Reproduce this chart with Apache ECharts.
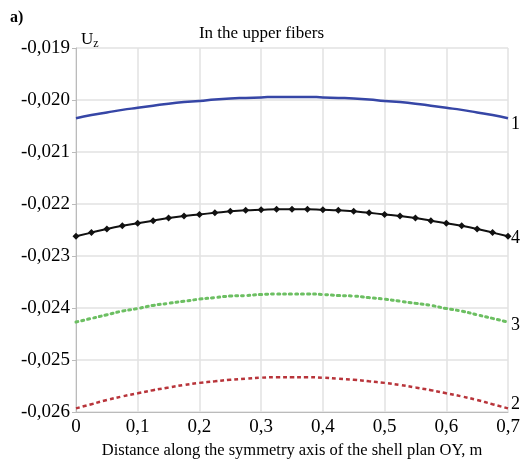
<!DOCTYPE html>
<html>
<head>
<meta charset="utf-8">
<script src="https://cdn.jsdelivr.net/npm/echarts@6/dist/echarts.min.js"></script>
<style>html,body{margin:0;padding:0;background:#fff}#c{width:523px;height:460px}</style>
</head>
<body>
<div id="c"></div>
<script>
const xValues = [0,0.025,0.05,0.075,0.1,0.125,0.15,0.175,0.2,0.225,0.25,0.275,0.3,0.325,0.35,0.375,0.4,0.425,0.45,0.475,0.5,0.525,0.55,0.575,0.6,0.625,0.65,0.675,0.7];
const curve1 = [-0.02035,-0.02029,-0.02024,-0.02019,-0.02015,-0.02011,-0.02007,-0.02004,-0.02002,-0.01999,-0.01997,-0.01996,-0.01995,-0.01994,-0.01994,-0.01994,-0.01995,-0.01996,-0.01997,-0.01999,-0.02002,-0.02004,-0.02007,-0.02011,-0.02015,-0.02019,-0.02024,-0.02029,-0.02035];
const curve4 = [-0.02262,-0.02255,-0.02248,-0.02242,-0.02237,-0.02232,-0.02227,-0.02223,-0.02220,-0.02217,-0.02214,-0.02212,-0.02211,-0.02210,-0.02210,-0.02210,-0.02211,-0.02212,-0.02214,-0.02217,-0.02220,-0.02223,-0.02227,-0.02232,-0.02237,-0.02242,-0.02248,-0.02255,-0.02262];
const curve3 = [-0.02427,-0.02420,-0.02413,-0.02406,-0.02401,-0.02395,-0.02391,-0.02387,-0.02383,-0.02380,-0.02377,-0.02376,-0.02374,-0.02373,-0.02373,-0.02373,-0.02374,-0.02376,-0.02377,-0.02380,-0.02383,-0.02387,-0.02391,-0.02395,-0.02401,-0.02406,-0.02413,-0.02420,-0.02427];
const curve2 = [-0.02593,-0.02585,-0.02577,-0.02570,-0.02564,-0.02558,-0.02553,-0.02548,-0.02544,-0.02541,-0.02538,-0.02536,-0.02534,-0.02533,-0.02533,-0.02533,-0.02534,-0.02536,-0.02538,-0.02541,-0.02544,-0.02548,-0.02553,-0.02558,-0.02564,-0.02570,-0.02577,-0.02585,-0.02593];
const curveNames = ['1','4','3','2'];
const titleText = 'In the upper fibers';
const xAxisName = 'Distance along the symmetry axis of the shell plan OY, m';

const font = '"Liberation Serif","Times New Roman",serif';
function pairs(arr){ return xValues.map((x,i)=>[x,arr[i]]); }
function endLbl(name, dy){
  return {show:true, formatter:name, color:'#000', fontFamily:font, fontSize:18, distance:3, offset:[0,dy]};
}
const chart = echarts.init(document.getElementById('c'), null, {renderer:'canvas'});
chart.setOption({
  backgroundColor:'#fff',
  animation:false,
  grid:{left:76, right:15, top:48, bottom:48, containLabel:false, outerBoundsMode:'none'},
  graphic:[
    {type:'text', left:10, top:10, style:{text:'a)', font:'bold 16px '+font, fill:'#000'}},
    {type:'text', left:81, top:31, style:{text:'{u|U}{z|z}', rich:{u:{fontFamily:font,fontSize:17,color:'#000'},z:{fontFamily:font,fontSize:12,color:'#000',padding:[8,0,0,0]}}}},
    {type:'text', left:'center', top:25, style:{text:titleText, font:'17px '+font, fill:'#000'}, x:8}
  ],
  xAxis:{
    type:'value', min:0, max:0.7, interval:0.1,
    name:xAxisName, nameLocation:'middle', nameGap:30,
    nameTextStyle:{fontFamily:font, fontSize:16.5, color:'#000'},
    axisLine:{show:true, lineStyle:{color:'#bbb'}},
    axisTick:{show:false},
    axisLabel:{fontFamily:font, fontSize:19, color:'#000', margin:6,
      formatter:v=> v===0?'0':v.toFixed(1).replace('.',',')},
    splitLine:{show:true, lineStyle:{color:'#e2e2e2', width:1.5}}
  },
  yAxis:{
    type:'value', min:-0.026, max:-0.019, interval:0.001,
    axisLine:{show:true, lineStyle:{color:'#bbb'}},
    axisTick:{show:true, length:4, lineStyle:{color:'#bbb'}},
    axisLabel:{fontFamily:font, fontSize:19, color:'#000', margin:6,
      formatter:v=> v.toFixed(3).replace('.',',')},
    splitLine:{show:true, lineStyle:{color:'#e2e2e2', width:1.5}}
  },
  series:[
    {type:'line', data:pairs(curve1), showSymbol:false, smooth:true,
      lineStyle:{color:'#3646a6', width:2.5}, endLabel:endLbl(curveNames[0],6)},
    {type:'line', data:pairs(curve4), symbol:'diamond', symbolSize:7, smooth:true,
      itemStyle:{color:'#111'}, lineStyle:{color:'#111', width:2}, endLabel:endLbl(curveNames[1],2)},
    {type:'line', data:pairs(curve3), showSymbol:false, smooth:true,
      lineStyle:{color:'#6cbf62', width:3, type:[2,4], cap:'round'}, endLabel:endLbl(curveNames[2],3)},
    {type:'line', data:pairs(curve2), showSymbol:false, smooth:true,
      lineStyle:{color:'#b8343a', width:2.5, type:[4,3]}, endLabel:endLbl(curveNames[3],-4)}
  ]
});
</script>
</body>
</html>
